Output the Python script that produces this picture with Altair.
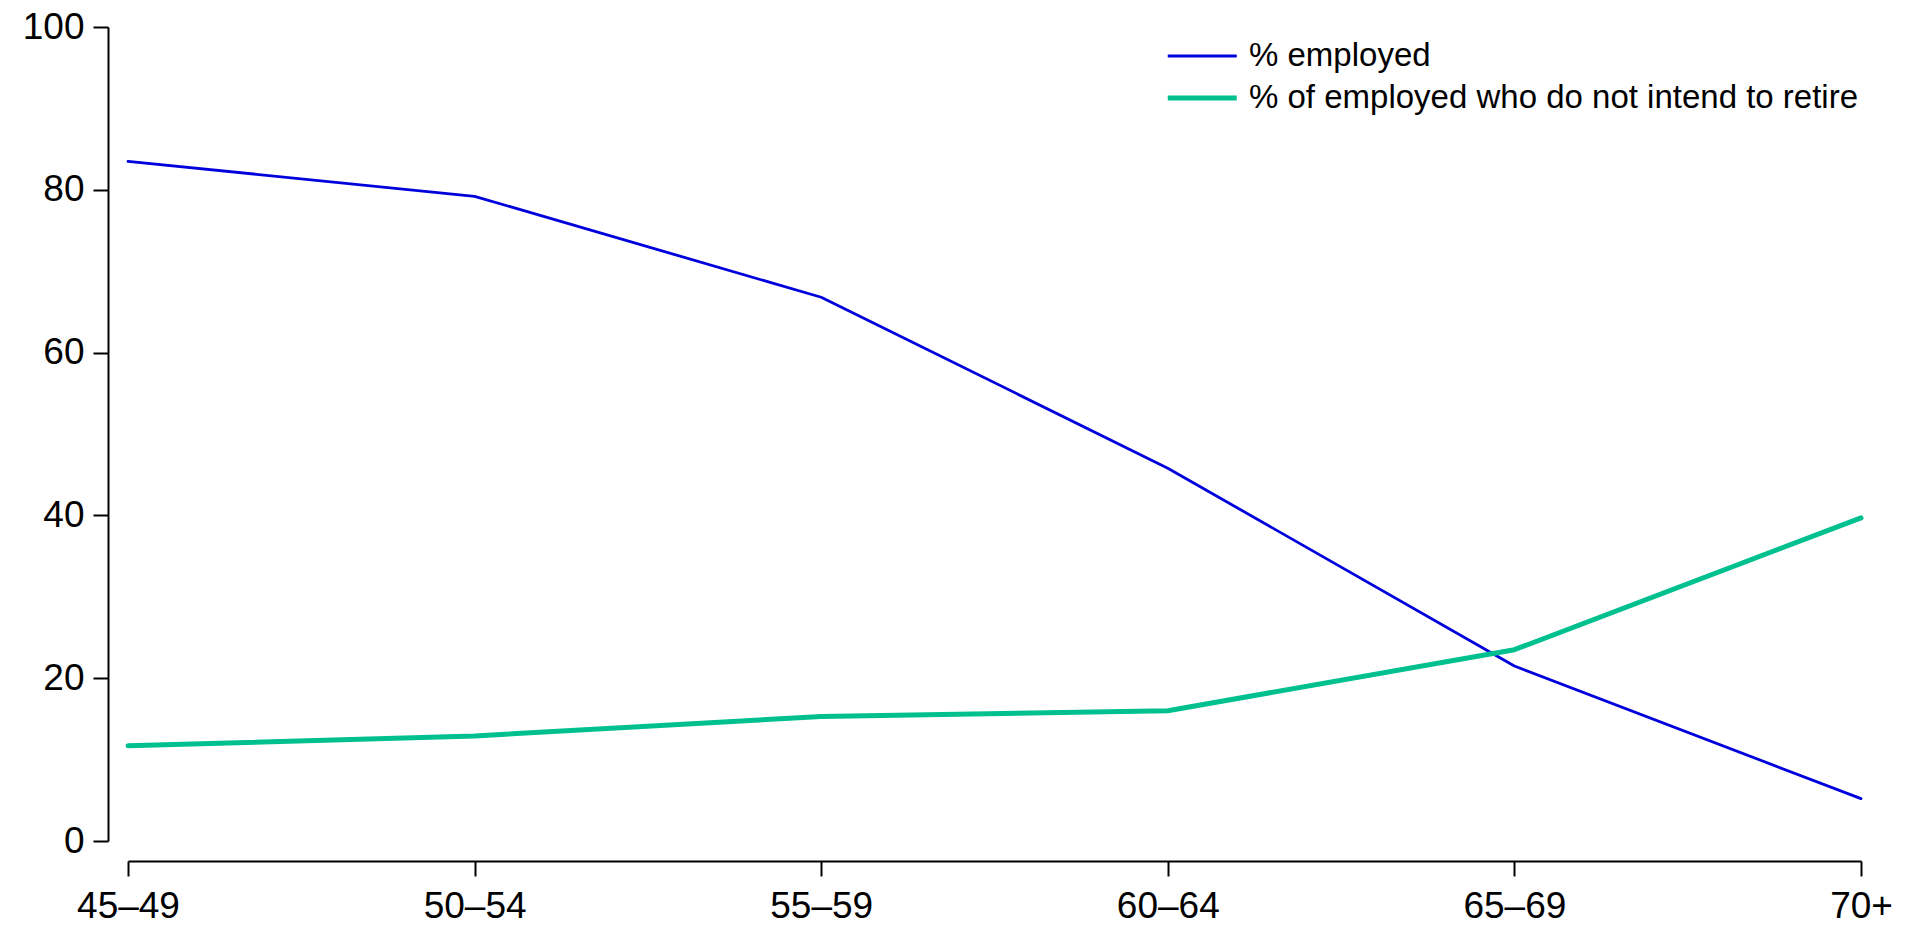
import altair as alt
import pandas as pd

ages = ["45–49", "50–54", "55–59", "60–64", "65–69", "70+"]
employed = [83.5, 79.2, 66.8, 45.8, 21.5, 5.2]
not_retire = [11.7, 12.9, 15.3, 16.0, 23.5, 39.7]
series = ["% employed", "% of employed who do not intend to retire"]
colors = ["#0000dc", "#00c08f"]
widths = [2.8, 5]
y_ticks = [0, 20, 40, 60, 80, 100]

rows = []
for s, vals in zip(series, [employed, not_retire]):
    for a, v in zip(ages, vals):
        rows.append({"age": a, "value": v, "series": s})
df = pd.DataFrame(rows)

FONT = "Liberation Sans"

legend_opts = dict(title=None, orient="none", legendX=1037, legendY=10,
                   symbolType="M-1,0H3", symbolSize=1190,
                   labelFontSize=33, labelFont=FONT, labelColor="black",
                   labelLimit=0, labelOffset=44, padding=0, rowPadding=5)

chart = alt.Chart(df).mark_line(strokeCap="round", strokeJoin="round").encode(
    x=alt.X("age:N", sort=ages,
            scale=alt.Scale(type="point", padding=0),
            axis=alt.Axis(title=None, labelAngle=0, offset=20, labelPadding=12)),
    y=alt.Y("value:Q", scale=alt.Scale(domain=[0, 100], nice=False),
            axis=alt.Axis(values=y_ticks, title=None, grid=False, offset=20, labelPadding=9)),
    color=alt.Color("series:N", sort=series,
                    scale=alt.Scale(domain=series, range=colors),
                    legend=alt.Legend(**legend_opts)),
    strokeWidth=alt.StrokeWidth("series:N", sort=series,
                                scale=alt.Scale(domain=series, range=widths),
                                legend=alt.Legend(**legend_opts)),
).properties(
    width=1733, height=814,
    autosize=alt.AutoSizeParams(type="none"),
    padding={"left": 120, "top": 19, "right": 43, "bottom": 90},
).configure_view(stroke=None).configure_axis(
    domainColor="black", domainWidth=2, tickColor="black", tickWidth=2, tickSize=15,
    labelFontSize=37, labelFont=FONT, labelColor="black",
)

chart.save("out.html", embed_options={"renderer": "svg", "actions": False})
